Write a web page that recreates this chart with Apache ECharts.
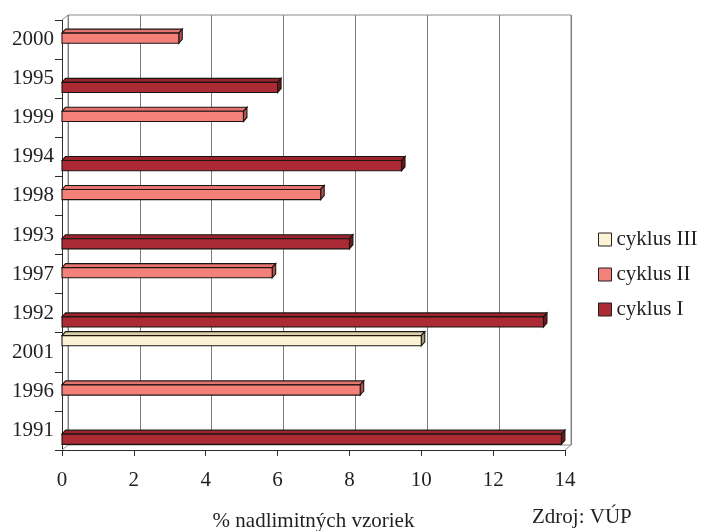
<!DOCTYPE html>
<html>
<head>
<meta charset="utf-8">
<script src="https://cdn.jsdelivr.net/npm/echarts@6/dist/echarts.min.js"></script>
<style>
  html, body { margin: 0; padding: 0; background: #ffffff; }
  #chart { width: 703px; height: 531px; }
</style>
</head>
<body>
<div id="chart"></div>
<script>
// Category order, bottom to top of the category axis
const years = ['1991', '1996', '2001', '1992', '1997', '1993', '1998', '1994', '1999', '1995', '2000'];

// Share of samples above the limit (%), one survey cycle per year
const cyklusI   = [13.9, null, null, 13.4, null, 8.0, null, 9.45, null, 6.0, null];
const cyklusII  = [null, 8.3, null, null, 5.85, null, 7.2, null, 5.05, null, 3.25];
const cyklusIII = [null, null, 10.0, null, null, null, null, null, null, null, null];

// Value axis range and ticks
const valueMin = 0;
const valueMax = 14;
const valueStep = 2;

const seriesNames = ['cyklus I', 'cyklus II', 'cyklus III'];
const legendOrder = ['cyklus III', 'cyklus II', 'cyklus I'];

const FONT = 'Liberation Serif';
const INK = '#231f20';

// Front plane of the plot and the offset of the back wall (pseudo 3D depth)
const front = { left: 62, right: 138, top: 20, bottom: 81 };
const depth = { dx: 6, dy: 5 };
const W = 703, H = 531;

const faces = {
  'cyklus I':   { front: '#ab2a33', top: '#9a242c', side: '#6a171d' },
  'cyklus II':  { front: '#f4807a', top: '#e5746e', side: '#b0534e' },
  'cyklus III': { front: '#fbf3d3', top: '#d8cfa6', side: '#a29b7c' }
};

// slot 0 = upper bar in a category group, slot 2 = lower
function barRenderer(slot, c) {
  return function (params, api) {
    const v = api.value(0);
    const idx = api.value(1);
    const p0 = api.coord([valueMin, idx]);
    const p1 = api.coord([v, idx]);
    const band = api.size([0, 1])[1];
    const h = band * 0.26;
    const y0 = p0[1] - band / 2 + band * 0.075 + slot * h;
    const y1 = y0 + h;
    const x0 = p0[0], x1 = p1[0];
    const dx = 3.5, dy = 4;
    const line = { stroke: '#1e1414', lineWidth: 1.1 };
    return {
      type: 'group',
      children: [
        { type: 'polygon',
          shape: { points: [[x0, y0], [x1, y0], [x1 + dx, y0 - dy], [x0 + dx, y0 - dy]] },
          style: Object.assign({ fill: c.top }, line) },
        { type: 'polygon',
          shape: { points: [[x1, y0], [x1 + dx, y0 - dy], [x1 + dx, y1 - dy], [x1, y1]] },
          style: Object.assign({ fill: c.side }, line) },
        { type: 'rect',
          shape: { x: x0, y: y0, width: x1 - x0, height: h },
          style: Object.assign({ fill: c.front }, line) }
      ]
    };
  };
}

function toData(values) {
  const out = [];
  values.forEach(function (v, i) { if (v != null) out.push([v, i]); });
  return out;
}

const valuesByName = { 'cyklus I': cyklusI, 'cyklus II': cyklusII, 'cyklus III': cyklusIII };
const slotByName = { 'cyklus I': 2, 'cyklus II': 1, 'cyklus III': 0 };

const series = seriesNames.map(function (name) {
  return {
    name: name,
    type: 'custom',
    xAxisIndex: 0,
    yAxisIndex: 0,
    renderItem: barRenderer(slotByName[name], faces[name]),
    encode: { x: 0, y: 1 },
    itemStyle: { color: faces[name].front, borderColor: INK, borderWidth: 1 },
    clip: false,
    z: 5,
    data: toData(valuesByName[name])
  };
});

// Corner edges joining the front axes to the back wall
const fx0 = front.left, fx1 = W - front.right, fy0 = front.top, fy1 = H - front.bottom;
const frameEdges = [
  [[fx0, fy0], [fx0 + depth.dx, fy0 - depth.dy]],
  [[fx0, fy1], [fx0 + depth.dx, fy1 - depth.dy]],
  [[fx1, fy1], [fx1 + depth.dx, fy1 - depth.dy]]
].map(function (pts) {
  return {
    type: 'line',
    shape: { x1: pts[0][0], y1: pts[0][1], x2: pts[1][0], y2: pts[1][1] },
    style: { stroke: '#8c8c8c', lineWidth: 1 },
    z: 1
  };
});

const chart = echarts.init(document.getElementById('chart'), null, { renderer: 'canvas' });

chart.setOption({
  animation: false,
  backgroundColor: '#ffffff',
  textStyle: { fontFamily: FONT, color: INK },
  grid: [
    { left: front.left, right: front.right, top: front.top, bottom: front.bottom,
      containLabel: false, outerBoundsMode: 'none' },
    { left: front.left + depth.dx, right: front.right - depth.dx,
      top: front.top - depth.dy, bottom: front.bottom + depth.dy,
      containLabel: false, outerBoundsMode: 'none',
      show: true, borderColor: '#8c8c8c', borderWidth: 1, backgroundColor: 'transparent', z: 0 }
  ],
  xAxis: [
    {
      type: 'value', gridIndex: 0, min: valueMin, max: valueMax, interval: valueStep,
      name: '% nadlimitných vzoriek', nameLocation: 'middle', nameGap: 61,
      nameTextStyle: { fontFamily: FONT, fontSize: 21, color: INK },
      axisLine: { show: true, lineStyle: { color: '#2b2b2b', width: 1 } },
      axisTick: { show: true, length: 6, lineStyle: { color: '#2b2b2b' } },
      axisLabel: { fontFamily: FONT, fontSize: 21, color: INK, margin: 20 },
      splitLine: { show: false }
    },
    {
      type: 'value', gridIndex: 1, min: valueMin, max: valueMax, interval: valueStep,
      axisLine: { show: false }, axisTick: { show: false }, axisLabel: { show: false },
      splitLine: { show: true, lineStyle: { color: '#7d7d7d', width: 1 } }
    }
  ],
  yAxis: [
    {
      type: 'category', gridIndex: 0, data: years, boundaryGap: true,
      axisLine: { show: true, lineStyle: { color: '#2b2b2b', width: 1 } },
      axisTick: { show: true, length: 7, interval: 0, lineStyle: { color: '#2b2b2b' } },
      axisLabel: { fontFamily: FONT, fontSize: 21, color: INK, margin: 8, interval: 0, padding: [10, 0, 0, 0] },
      splitLine: { show: false }
    },
    {
      type: 'category', gridIndex: 1, data: years,
      axisLine: { show: false }, axisTick: { show: false }, axisLabel: { show: false },
      splitLine: { show: false }
    }
  ],
  legend: {
    data: legendOrder,
    orient: 'vertical',
    left: 598,
    top: 229,
    padding: 0,
    icon: 'rect',
    itemWidth: 13,
    itemHeight: 13,
    itemGap: 14,
    selectedMode: false,
    itemStyle: { borderColor: INK, borderWidth: 1 },
    textStyle: { fontFamily: FONT, fontSize: 21, color: INK, lineHeight: 21, padding: [0, 0, 0, 0] }
  },
  graphic: frameEdges.concat([
    {
      type: 'text',
      left: 532,
      top: 507,
      style: { text: 'Zdroj: VÚP', fontFamily: FONT, fontSize: 21, fill: INK }
    }
  ]),
  series: series
});
</script>
</body>
</html>
